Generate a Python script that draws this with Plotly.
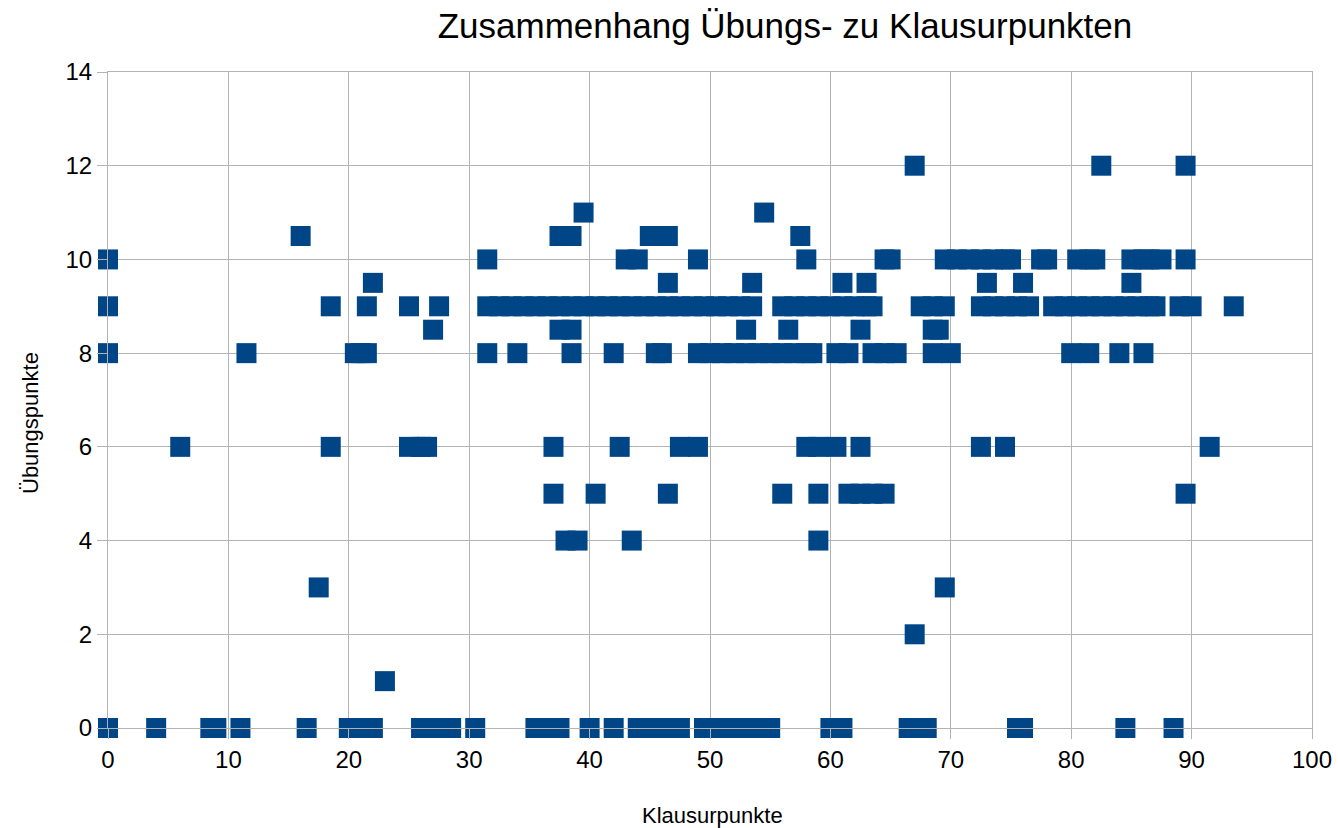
import plotly.graph_objects as go

# Klausurpunkte (x) grouped by Übungspunkte (y) level
rows = {
    12: [67, 82.5, 89.5],
    11: [39.5, 54.5],
    10.5: [16, 37.5, 38.5, 45, 46, 46.5, 57.5],
    10: [0, 31.5, 43, 44, 49, 58, 64.5, 65, 69.5, 70.5, 71.5, 72.5, 73.5, 74.5, 75,
         77.5, 78, 80.5, 81.5, 82, 85, 86, 86.5, 87.5, 89.5],
    9.5: [22, 46.5, 53.5, 61, 63, 73, 76, 85],
    9: [0, 18.5, 21.5, 25, 27.5, 31.5, 32.5, 33.5, 34.5, 35.5, 36.5, 37.5, 38.5, 39.5,
        40.5, 41.5, 42.5, 43.5, 44.5, 45.5, 46.5, 47.5, 48.5, 49.5, 50.5, 51.5, 52.5,
        53.5, 56, 57, 58, 59, 60, 61, 62, 63, 63.5, 67.5, 68.5, 69.5, 72.5, 73.5, 74.5,
        75.5, 76.5, 78.5, 79.5, 80.5, 81.5, 82.5, 83.5, 84.5, 85.5, 86.5, 87, 89, 90, 93.5],
    8.5: [27, 37.5, 38.5, 53, 56.5, 62.5, 68.5, 69],
    8: [0, 11.5, 20.5, 21, 21.5, 31.5, 34, 38.5, 42, 45.5, 46, 49, 50, 51, 52, 53, 54, 55,
        56, 57, 58, 58.5, 60.5, 61.5, 63.5, 64.5, 65.5, 68.5, 70, 80, 81.5, 84, 86],
    6: [6, 18.5, 25, 26, 26.5, 37, 42.5, 47.5, 49, 58, 59, 60.5, 62.5, 72.5, 74.5, 91.5],
    5: [37, 40.5, 46.5, 56, 59, 61.5, 62.5, 63.5, 64.5, 89.5],
    4: [38, 39, 43.5, 59],
    3: [17.5, 69.5],
    2: [67],
    1: [23],
    0: [0, 4, 8.5, 9, 11, 16.5, 20, 21, 22, 26, 27, 28.5, 30.5, 35.5, 36.5, 37.5, 40, 42,
        44, 45, 46, 47.5, 49.5, 50.5, 51.5, 52.5, 53.5, 54.5, 55, 60, 61, 66.5, 68, 75.5,
        76, 84.5, 88.5],
}

klausurpunkte = []
uebungspunkte = []
for yv, xs in rows.items():
    for xv in xs:
        klausurpunkte.append(xv)
        uebungspunkte.append(yv)

x_ticks = list(range(0, 101, 10))
y_ticks = list(range(0, 15, 2))

FONT = "Liberation Sans, Arial, sans-serif"
GRID = "#b3b3b3"

fig = go.Figure(go.Scatter(
    x=klausurpunkte, y=uebungspunkte, mode="markers",
    marker=dict(symbol="square", size=20, color="#004586", line=dict(width=0)),
    cliponaxis=False, showlegend=False,
))

W, H = 1338, 828
L, R, T, B = 108, 26, 72, 100
PW, PH = W - L - R, H - T - B

fig.update_layout(
    width=W, height=H,
    margin=dict(l=L, r=R, t=T, b=B, autoexpand=False),
    paper_bgcolor="white", plot_bgcolor="white",
    font=dict(family=FONT, color="black"),
    title=dict(text="Zusammenhang Übungs- zu Klausurpunkten",
               font=dict(size=35, family=FONT, color="black"),
               x=785 / W, xref="container", xanchor="center",
               y=1 - 26 / H, yref="container", yanchor="middle"),
    xaxis=dict(range=[0, 100], tickvals=x_ticks, ticktext=[str(v) for v in x_ticks],
               showgrid=True, gridcolor=GRID, gridwidth=1, zeroline=False,
               showline=True, linecolor=GRID, mirror=True,
               ticks="outside", ticklen=10, tickcolor=GRID,
               tickfont=dict(size=24, family=FONT, color="black")),
    yaxis=dict(range=[0, 14], tickvals=y_ticks, ticktext=[str(v) for v in y_ticks],
               showgrid=True, gridcolor=GRID, gridwidth=1, zeroline=False,
               showline=True, linecolor=GRID, mirror=True,
               ticks="outside", ticklen=10, tickcolor=GRID,
               tickfont=dict(size=24, family=FONT, color="black")),
    annotations=[
        dict(text="Klausurpunkte", xref="paper", yref="paper",
             x=(712 - L) / PW, y=-(815 - (H - B)) / PH,
             xanchor="center", yanchor="middle", showarrow=False,
             font=dict(size=22, family=FONT, color="black")),
        dict(text="Übungspunkte", xref="paper", yref="paper",
             x=-(L - 30) / PW, y=1 - (423 - T) / PH,
             xanchor="center", yanchor="middle", showarrow=False, textangle=-90,
             font=dict(size=22, family=FONT, color="black")),
    ],
)

fig.write_html(
    "out.html",
    config={"displayModeBar": False},
    post_script="document.body.style.margin='0';document.body.style.overflow='hidden';",
)
